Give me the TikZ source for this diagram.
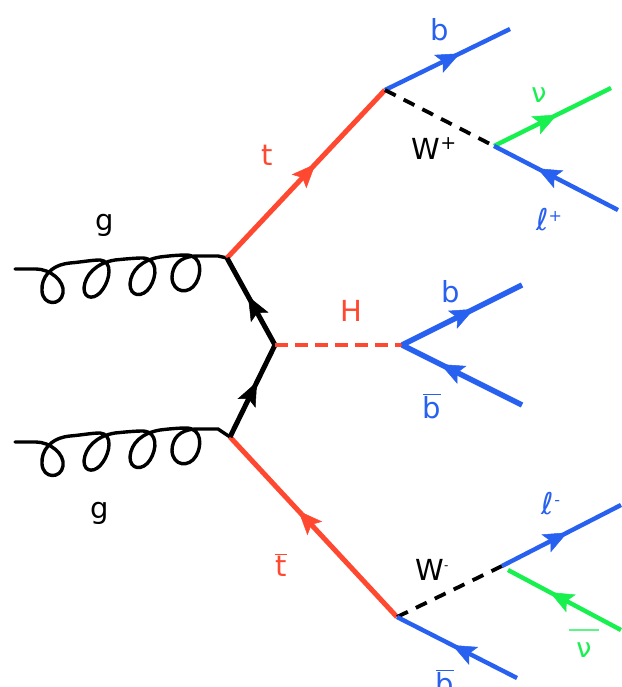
\documentclass[tikz,border=0pt]{standalone}
\usepackage{fontspec}
\setmainfont{DejaVu Sans}
\usetikzlibrary{decorations.markings,arrows.meta}
\definecolor{fred}{RGB}{255,72,48}
\definecolor{fblue}{RGB}{40,96,240}
\definecolor{fgreen}{RGB}{24,240,80}
\tikzset{
  x=1pt,y=-1pt,
  midarrow/.style={postaction={decorate},decoration={markings,mark=at position #1 with {\arrow[line width=0.5pt]{Stealth[length=24pt,width=20pt,inset=5pt]}}}},
  topquark/.style={line width=5pt,midarrow=#1,color=fred},
  lepton/.style={line width=4.4pt,midarrow=#1,color=fblue},
  bjet/.style={line width=5.4pt,midarrow=#1,color=fblue},
  neutrino/.style={line width=4.4pt,midarrow=#1,color=fgreen},
  internal/.style={line width=5pt,midarrow=#1,color=black},
  boson/.style={line width=3.8pt,dash pattern=on 12pt off 9pt,color=black},
  higgs/.style={line width=3.6pt,dash pattern=on 13pt off 7pt,color=fred},
  gluonline/.style={line width=3.4pt,color=black,line cap=round},
  lab/.style={font=\fontsize{29}{29}\selectfont,inner sep=0pt,anchor=base},
  greeklab/.style={font=\fontsize{27}{27}\selectfont,inner sep=0pt,anchor=base},
  elllab/.style={font=\fontsize{30}{30}\selectfont,inner sep=0pt,anchor=base},
}
\newcommand{\gluonpath}[2]{%
  \draw[gluonline,shift={(0,#1)}] (15,269) -- (36,269)
    .. controls (50,269) and (65,281) .. (63,293)
    .. controls (61,306) and (43,306) .. (42,291)
    .. controls (41,278) and (50,265) .. (70,263)
    .. controls (82,262) and (92,260) .. (100,260)
    .. controls (113,261) and (110,279) .. (103,289)
    .. controls (96,300) and (84,300) .. (84,288)
    .. controls (85,275) and (96,263) .. (115,260)
    .. controls (125,259) and (135,258) .. (143,258)
    .. controls (158,259) and (157,276) .. (150,287)
    .. controls (143,298) and (130,297) .. (130,284)
    .. controls (131,270) and (142,260) .. (160,257)
    .. controls (168,256) and (178,255) .. (187,255)
    .. controls (202,256) and (202,273) .. (196,283)
    .. controls (189,295) and (173,293) .. (172,278)
    .. controls (172,265) and (180,257) .. (195,256) -- (218,256)
    -- (#2);
}
\begin{document}
\begin{tikzpicture}
\useasboundingbox (0,0) rectangle (621,687);
\coordinate (Gt) at (227,258);
\coordinate (Gb) at (230,437);
\coordinate (C) at (275,345);
\coordinate (Tt) at (385,90);
\coordinate (Tb) at (397,617);
\coordinate (Hd) at (402,345);
\coordinate (Wp) at (494,146);
\coordinate (Wm) at (502,566);
\coordinate (bout) at (510,29);
\coordinate (nuout) at (611,88);
\coordinate (lpin) at (618,210);
\coordinate (hbout) at (522,285);
\coordinate (hbin) at (522,405);
\coordinate (lmout) at (621,505);
\coordinate (nbin) at (621,630);
\coordinate (nbv) at (508,570);
\coordinate (bbin) at (517,678);

\gluonpath{0}{Gt}
\gluonpath{173}{Gb}

\draw[topquark=0.56] (Gt) -- (Tt);
\draw[topquark=0.59] (Tb) -- (Gb);
\draw[internal=0.56] (C) -- (Gt);
\draw[internal=0.6] (Gb) -- (C);
\draw[higgs] (C) -- (Hd);
\draw[bjet=0.6] (Hd) -- (hbout);
\draw[bjet=0.68] (hbin) -- (Hd);
\draw[lepton=0.6] (Tt) -- (bout);
\draw[boson] (Tt) -- (Wp);
\draw[neutrino=0.54] (Wp) -- (nuout);
\draw[lepton=0.65] (lpin) -- (Wp);
\draw[boson] (Tb) -- (Wm);
\draw[lepton=0.55] (Wm) -- (lmout);
\draw[neutrino=0.63] (nbin) -- (nbv);
\draw[lepton=0.54] (bbin) -- (Tb);

\node[lab] (g1) at (105,230) {g};
\node[lab] (g2) at (100,518) {g};
\node[lab,text=fred] (tl) at (267,165) {t};
\node[lab,text=fred] (tb) at (281,576) {$\overline{\mbox{t}}$};
\node[lab,text=fred] (hl) at (351,321) {H};
\node[lab,text=fblue] (b1) at (440,41) {b};
\node[lab,text=fblue] (b2) at (451,302) {b};
\node[lab,text=fblue] (b3) at (432,418) {$\overline{\mbox{b}}$};
\node[lab,text=fblue] (b4) at (445,694) {$\overline{\mbox{b}}$};
\node[lab] (wp) at (434,160) {W\raisebox{10pt}{\fontsize{19}{19}\selectfont +}};
\node[lab] (wm) at (432,580) {W\raisebox{11pt}{\fontsize{12}{12}\selectfont -}};
\node[greeklab,text=fgreen] (nu) at (539,103) {ν};
\node[greeklab,text=fgreen] (nb) at (584,657) {ν};
\draw[fgreen!70!white,line width=1.6pt] ([shift={(-15,-27)}]nb.base) -- ([shift={(15,-27)}]nb.base);
\node[elllab,text=fblue] (lp) at (549,230) {ℓ\raisebox{9pt}{\fontsize{16}{16}\selectfont +}};
\node[elllab,text=fblue] (lm) at (551,514) {ℓ\raisebox{9pt}{\fontsize{16}{16}\selectfont -}};
\end{tikzpicture}
\end{document}
